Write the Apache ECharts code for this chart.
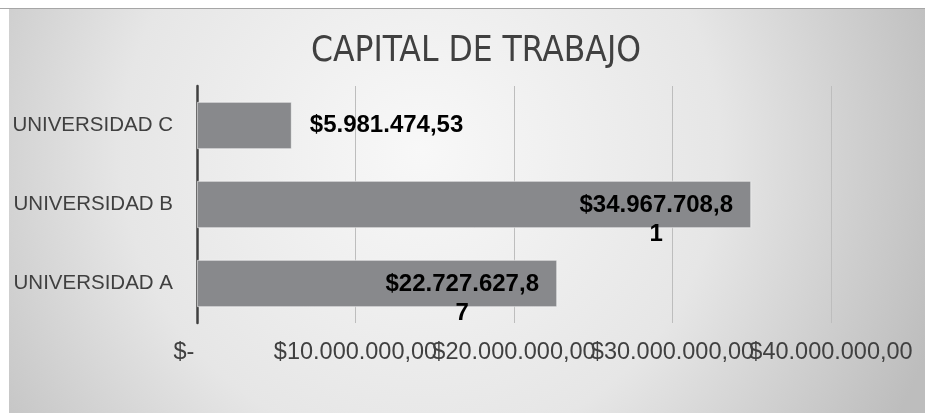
<!DOCTYPE html>
<html>
<head>
<meta charset="utf-8">
<script src="https://cdn.jsdelivr.net/npm/echarts@6/dist/echarts.min.js"></script>
<style>
html,body{margin:0;padding:0;background:#ffffff;width:925px;height:413px;overflow:hidden;}
#topline{position:absolute;left:0;top:8px;width:925px;height:1px;background:#a6a6a6;}
#chart{position:absolute;left:9px;top:9px;width:916px;height:404px;}
</style>
</head>
<body>
<div id="topline"></div>
<div id="chart"></div>
<script>
var titleText = 'CAPITAL DE TRABAJO';
var categories = ['UNIVERSIDAD A', 'UNIVERSIDAD B', 'UNIVERSIDAD C'];
var values = [22727627.87, 34967708.81, 5981474.53];
var axisMin = 0;
var axisMax = 40000000;
var axisInterval = 10000000;
var zeroLabel = '$-    ';

function fmtMoney(v) {
  var parts = v.toFixed(2).split('.');
  var ints = parts[0].replace(/\B(?=(\d{3})+(?!\d))/g, '.');
  return '$' + ints + ',' + parts[1];
}
function tickLabel(v) { return v === 0 ? zeroLabel : fmtMoney(v); }

var chart = echarts.init(document.getElementById('chart'));

var dataItems = values.map(function (v) {
  var inside = v > 10000000;
  var txt = fmtMoney(v);
  return {
    value: v,
    label: inside ? {
      position: 'insideRight',
      distance: 0,
      align: 'center',
      verticalAlign: 'middle',
      offset: [-95, 15],
      formatter: txt.slice(0, -1) + '\n' + txt.slice(-1)
    } : {
      position: 'right',
      distance: 18,
      formatter: txt
    }
  };
});

var labelStyle = {
  margin: 18,
  fontFamily: '"Liberation Sans", Arial, sans-serif',
  fontSize: 23.5,
  color: '#404040',
  hideOverlap: false
};

chart.setOption({
  animation: false,
  backgroundColor: {
    type: 'radial', x: 0.45, y: 0.35, r: 1.35,
    colorStops: [
      {offset: 0, color: '#f8f8f8'},
      {offset: 0.55, color: '#e6e6e6'},
      {offset: 1, color: '#bdbdbd'}
    ]
  },
  title: {
    text: titleText,
    left: 462,
    textAlign: 'center',
    top: 20,
    textStyle: {
      fontFamily: '"Liberation Sans Narrow", "DejaVu Sans Condensed", "Liberation Sans", sans-serif',
      fontSize: 35,
      fontWeight: 'normal',
      color: '#404040'
    }
  },
  grid: {left: 188, right: 94, top: 77, bottom: 90, containLabel: false},
  xAxis: [{
    type: 'value',
    position: 'bottom',
    min: axisMin,
    max: axisMax,
    interval: axisInterval,
    axisLine: {show: false},
    axisTick: {show: false},
    splitLine: {show: true, lineStyle: {color: '#bdbdbd', width: 1}},
    axisLabel: Object.assign({}, labelStyle, {
      showMinLabel: true,
      showMaxLabel: false,
      formatter: tickLabel
    })
  }, {
    type: 'value',
    position: 'bottom',
    offset: 0,
    min: axisMin,
    max: axisMax,
    interval: axisInterval,
    axisLine: {show: false},
    axisTick: {show: false},
    splitLine: {show: false},
    axisLabel: Object.assign({}, labelStyle, {
      showMinLabel: false,
      showMaxLabel: true,
      formatter: function (v) { return v === axisMax ? tickLabel(v) : ''; }
    })
  }],
  yAxis: {
    type: 'category',
    data: categories,
    axisLine: {show: true, lineStyle: {color: '#404040', width: 2.5}},
    axisTick: {show: false},
    axisLabel: {
      margin: 24,
      fontFamily: '"Liberation Sans", Arial, sans-serif',
      fontSize: 20.5,
      color: '#404040'
    }
  },
  series: [{
    type: 'bar',
    xAxisIndex: 0,
    data: dataItems,
    barCategoryGap: '40%',
    itemStyle: {color: '#88898c', borderColor: 'rgba(255,255,255,0.55)', borderWidth: 1},
    label: {
      show: true,
      fontFamily: '"Liberation Sans", Arial, sans-serif',
      fontSize: 24,
      fontWeight: 'bold',
      lineHeight: 29,
      color: '#000000'
    }
  }]
});
</script>
</body>
</html>
